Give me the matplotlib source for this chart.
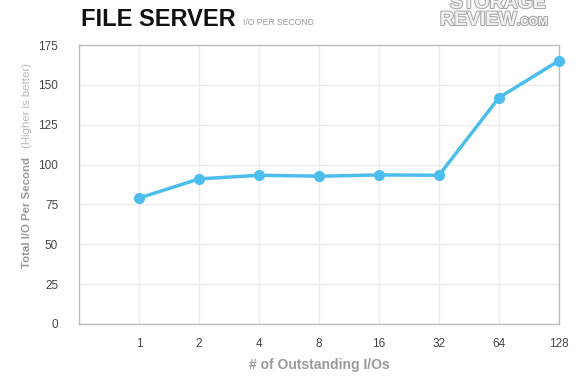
import matplotlib
matplotlib.use('Agg')
import matplotlib.pyplot as plt
import matplotlib.patheffects as pe

# Data
outstanding_ios = ['1', '2', '4', '8', '16', '32', '64', '128']
iops = [79, 91, 93.3, 92.7, 93.5, 93.3, 142, 165.2]
y_ticks = [0, 25, 50, 75, 100, 125, 150, 175]

LINE_COLOR = '#4dbdee'
GRID_COLOR = '#ebebeb'
FRAME_COLOR = '#bdbdbd'
TICK_COLOR = '#444444'
LABEL_COLOR = '#9a9a9a'

plt.rcParams['font.family'] = ['Liberation Sans', 'DejaVu Sans']

fig = plt.figure(figsize=(5.8, 3.9), dpi=100)
ax = fig.add_axes([79 / 580, 66 / 390, 480 / 580, 279 / 390])

x = list(range(1, len(outstanding_ios) + 1))
ax.plot(x, iops, color=LINE_COLOR, linewidth=2.5, marker='o', markersize=7,
        clip_on=False, zorder=3)

ax.set_xlim(0, len(outstanding_ios))
ax.set_ylim(0, 175)
ax.set_xticks(x)
ax.set_xticklabels(outstanding_ios)
ax.set_yticks(y_ticks)

ax.grid(True, color=GRID_COLOR, linewidth=1)
ax.set_axisbelow(True)
for spine in ax.spines.values():
    spine.set_color(FRAME_COLOR)
    spine.set_linewidth(1)

ax.tick_params(axis='both', length=0, labelsize=8.5, colors=TICK_COLOR)
ax.tick_params(axis='x', pad=10)
ax.tick_params(axis='y', pad=15)

ax.set_xlabel('# of Outstanding I/Os', fontsize=10, fontweight='bold',
              color=LABEL_COLOR, labelpad=6)

# y-axis label in two parts
fig.text(27 / 580, 1 - 213 / 390, 'Total I/O Per Second', rotation=90,
         ha='center', va='center', fontsize=8.2, fontweight='bold', color=LABEL_COLOR)
fig.text(27 / 580, 1 - 106 / 390, '(Higher is better)', rotation=90,
         ha='center', va='center', fontsize=8.2, color='#b8b8b8')

# Title
fig.text(81 / 580, 1 - 26 / 390, 'FILE SERVER', ha='left', va='baseline',
         fontsize=17, fontweight='bold', color='#111111')
fig.text(243 / 580, 1 - 25 / 390, 'I/O PER SECOND', ha='left', va='baseline',
         fontsize=6.2, color=LABEL_COLOR)

# Watermark logo
outline = [pe.withStroke(linewidth=1.5, foreground='#a8a8a8')]
fig.text(498 / 580, 1 - 8 / 390, 'STORAGE', ha='center', va='baseline',
         fontsize=14, fontweight='bold', color='#f2f2f2', path_effects=outline)
fig.text(440 / 580, 1 - 25 / 390, 'REVIEW', ha='left', va='baseline',
         fontsize=14, fontweight='bold', color='#f2f2f2', path_effects=outline)
fig.text(517 / 580, 1 - 25 / 390, '.COM', ha='left', va='baseline',
         fontsize=8.5, fontweight='bold', color='#f2f2f2', path_effects=outline)

fig.savefig('out.png', dpi=100)
